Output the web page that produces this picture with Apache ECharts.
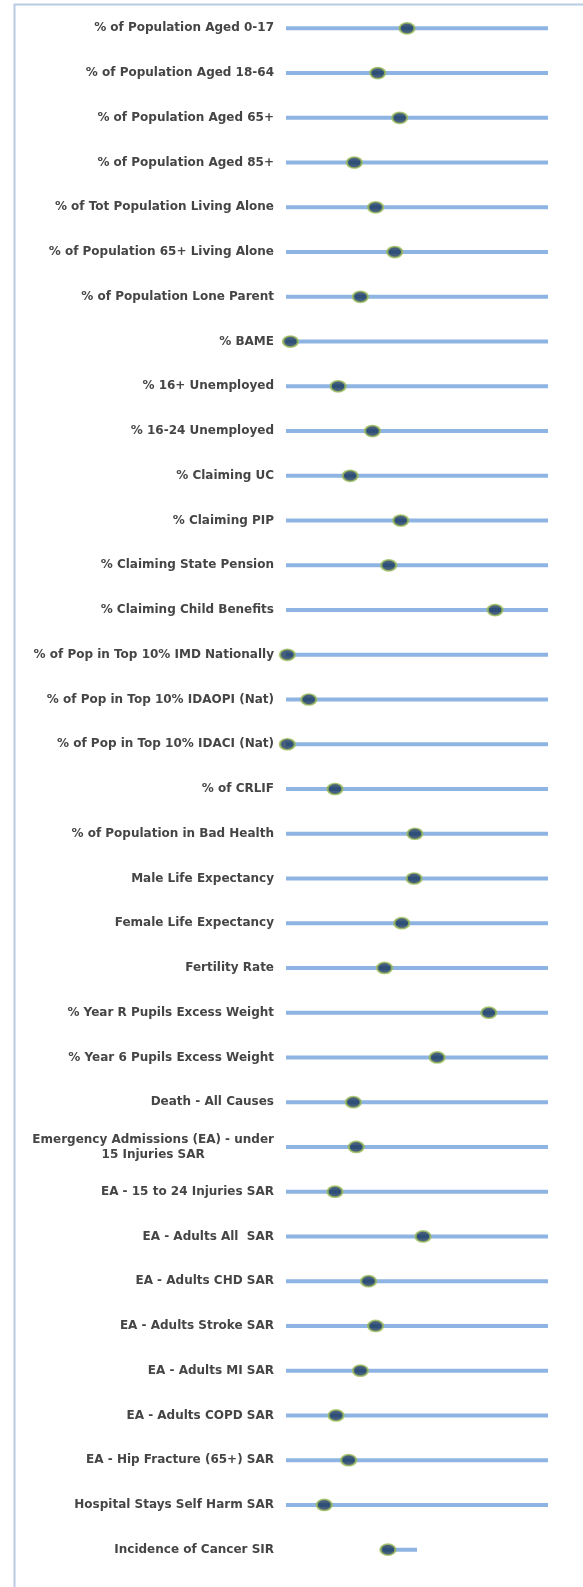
<!DOCTYPE html>
<html>
<head>
<meta charset="utf-8">
<script src="https://cdn.jsdelivr.net/npm/echarts@6/dist/echarts.min.js"></script>
<style>
html,body{margin:0;padding:0;background:#fff;}
#chart{width:583px;height:1587px;}
</style>
</head>
<body>
<div id="chart"></div>
<script>
var categories = [
  "% of Population Aged 0-17",
  "% of Population Aged 18-64",
  "% of Population Aged 65+",
  "% of Population Aged 85+",
  "% of Tot Population Living Alone",
  "% of Population 65+ Living Alone",
  "% of Population Lone Parent",
  "% BAME",
  "% 16+ Unemployed",
  "% 16-24 Unemployed",
  "% Claiming UC",
  "% Claiming PIP",
  "% Claiming State Pension",
  "% Claiming Child Benefits",
  "% of Pop in Top 10% IMD Nationally",
  "% of Pop in Top 10% IDAOPI (Nat)",
  "% of Pop in Top 10% IDACI (Nat)",
  "% of CRLIF",
  "% of Population in Bad Health",
  "Male Life Expectancy",
  "Female Life Expectancy",
  "Fertility Rate",
  "% Year R Pupils Excess Weight",
  "% Year 6 Pupils Excess Weight",
  "Death - All Causes",
  "Emergency Admissions (EA) - under\n15 Injuries SAR",
  "EA - 15 to 24 Injuries SAR",
  "EA - Adults All  SAR",
  "EA - Adults CHD SAR",
  "EA - Adults Stroke SAR",
  "EA - Adults MI SAR",
  "EA - Adults COPD SAR",
  "EA - Hip Fracture (65+) SAR",
  "Hospital Stays Self Harm SAR",
  "Incidence of Cancer SIR"
];
// range line start / end (scaled 0-100)
var rangeStart = [0,0,0,0,0,0,0,0,0,0,0,0,0,0,0,0,0,0,0,0,0,0,0,0,0,0,0,0,0,0,0,0,0,0,37];
var rangeEnd   = [100,100,100,100,100,100,100,100,100,100,100,100,100,100,100,100,100,100,100,100,100,100,100,100,100,100,100,100,100,100,100,100,100,100,50];
// local value (scaled 0-100)
var values = [46.2,35.0,43.4,26.1,34.2,41.5,28.4,1.7,19.9,33.0,24.5,43.8,39.2,79.8,0.5,8.7,0.5,18.7,49.2,48.9,44.2,37.6,77.4,57.7,25.7,26.8,18.7,52.3,31.5,34.2,28.4,19.1,23.9,14.6,38.9];

var base = rangeStart;
var len = rangeEnd.map(function(e,i){return e - rangeStart[i];});

var FONT = 'DejaVu Sans';
var TXT = '#454545';
var chart = echarts.init(document.getElementById('chart'));
chart.setOption({
  animation:false,
  backgroundColor:'#fff',
  graphic:[{
    type:'rect', shape:{x:14.5,y:4.5,width:600,height:1600},
    style:{fill:'none',stroke:'#b8cce4',lineWidth:2}, silent:true
  }],
  grid:{left:286,right:35,top:6,bottom:15,containLabel:false},
  xAxis:{type:'value',min:0,max:100,show:false},
  yAxis:{
    type:'category',data:categories,inverse:true,
    axisLine:{show:false},axisTick:{show:false},
    axisLabel:{
      margin:12,color:TXT,fontSize:12,fontWeight:'bold',fontFamily:FONT,
      formatter:function(v){
        return v.split('\n').map(function(s){return '{c|'+s+'}';}).join('\n');
      },
      rich:{c:{align:'center',color:TXT,fontSize:12,fontWeight:'bold',fontFamily:FONT,lineHeight:15}}
    },
    splitLine:{show:false}
  },
  series:[
    {type:'bar',stack:'r',data:base,barWidth:4,itemStyle:{color:'transparent'},silent:true},
    {type:'bar',stack:'r',data:len,barWidth:4,itemStyle:{color:'#8eb4e3'},silent:true},
    {type:'scatter',data:values,symbol:'circle',symbolSize:[15,11],z:5,
     itemStyle:{color:'#17365d',borderColor:'#9bbb59',borderWidth:2}}
  ]
});
</script>
</body>
</html>
